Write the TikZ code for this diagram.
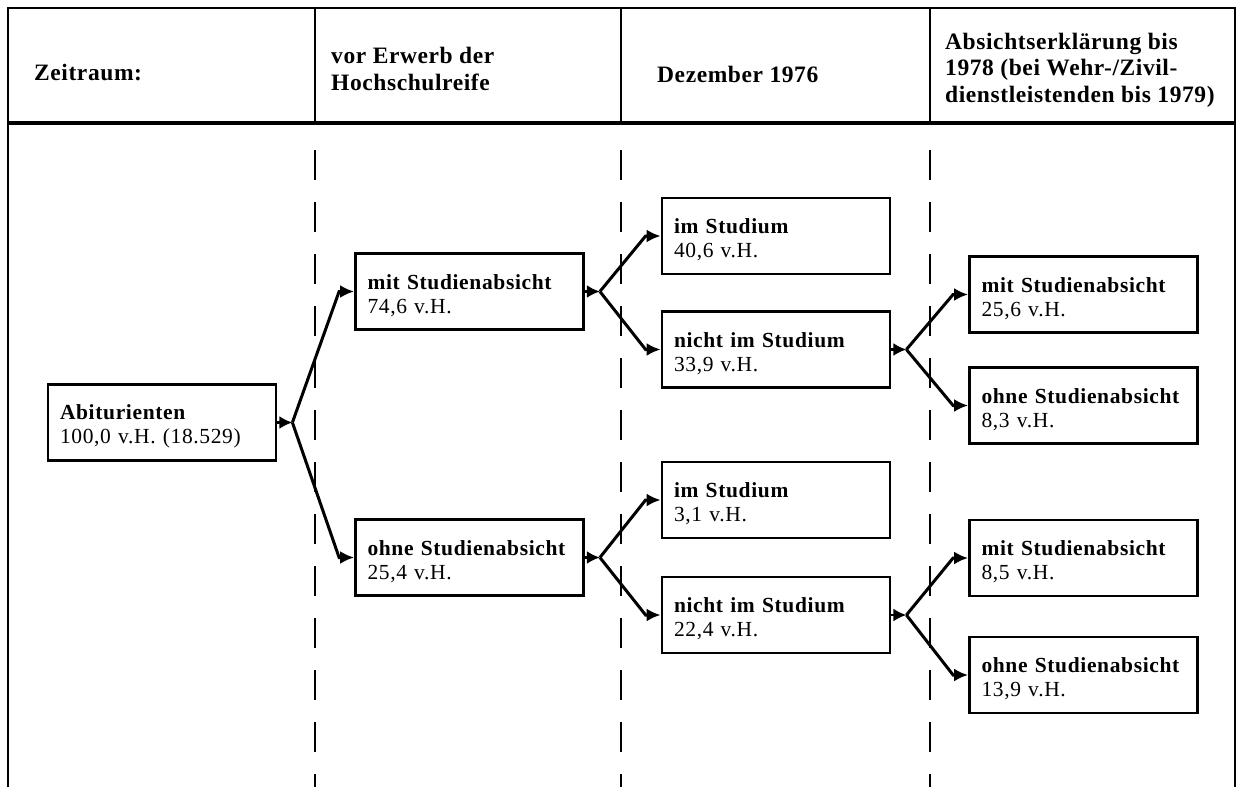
\documentclass[tikz,border=0pt]{standalone}
\usepackage{fontspec}
\setmainfont{Liberation Serif}
\newfontfamily\bxfont[LetterSpace=3]{Liberation Serif}
\newfontfamily\hdfont[LetterSpace=2.5]{Liberation Serif}
\usetikzlibrary{arrows.meta,calc}
\newcommand{\boxtxt}[2]{\rule{0pt}{23pt}\bfseries #1\\\mdseries #2}
\tikzset{
  stagebox/.style={draw, line width=2.8pt, minimum width=228pt, minimum height=76pt,
    text width=204pt, inner xsep=12pt, inner ysep=0pt, align=left,
    font=\bxfont\fontsize{21.5}{24}\selectfont},
  hdtext/.style={anchor=west, inner sep=0pt, align=left,
    font=\hdfont\bfseries\fontsize{23.5}{26.5}\selectfont},
  frame/.style={line width=2pt},
  guide/.style={line width=1.6pt, dash pattern=on 30pt off 22pt},
  conn/.style={line width=3pt, -{Latex[length=14pt,width=13pt]}},
  srcmark/.style={line width=2.5pt, -{Latex[length=13pt,width=13pt]}},
}
\begin{document}
\begin{tikzpicture}[x=1pt,y=-1pt]
\useasboundingbox (0,0) rectangle (1239,787);
% frame and header
\draw[frame] (8,787) -- (8,8) -- (1235,8) -- (1235,787);
\draw[line width=3.8pt] (8,123) -- (1235,123);
\foreach \x in {315,621,930} {
  \draw[frame] (\x,8) -- (\x,123);
  \draw[guide] (\x,150) -- (\x,787);
}
\node[hdtext] (h1) at (34,73) {Zeitraum:};
\node[hdtext] (h2) at (331,69) {vor Erwerb der\\Hochschulreife};
\node[hdtext] (h3) at (657,74) {Dezember 1976};
\node[hdtext] (h4) at (945,70) {Absichtserklärung bis\\1978 (bei Wehr-/Zivil-\\dienstleistenden bis 1979)};
% boxes
\node[stagebox] (abi) at (162,422.5) {\boxtxt{Abiturienten}{100,0 v.H. (18.529)}};
\node[stagebox] (m1) at (469.5,291.5) {\boxtxt{mit Studienabsicht}{74,6 v.H.}};
\node[stagebox] (o1) at (469.5,557.5) {\boxtxt{ohne Studienabsicht}{25,4 v.H.}};
\node[stagebox] (s1) at (776,236) {\boxtxt{im Studium}{40,6 v.H.}};
\node[stagebox] (n1) at (776,349.5) {\boxtxt{nicht im Studium}{33,9 v.H.}};
\node[stagebox] (s2) at (776,500) {\boxtxt{im Studium}{3,1 v.H.}};
\node[stagebox] (n2) at (776,615) {\boxtxt{nicht im Studium}{22,4 v.H.}};
\node[stagebox] (m2) at (1083.5,294.5) {\boxtxt{mit Studienabsicht}{25,6 v.H.}};
\node[stagebox] (o2) at (1083.5,405.5) {\boxtxt{ohne Studienabsicht}{8,3 v.H.}};
\node[stagebox] (m3) at (1083.5,558) {\boxtxt{mit Studienabsicht}{8,5 v.H.}};
\node[stagebox] (o3) at (1083.5,675) {\boxtxt{ohne Studienabsicht}{13,9 v.H.}};
% junctions
\foreach \n in {abi,m1,o1,n1,n2} {
  \coordinate (j\n) at ($(\n.east)+(15,0)$);
  \draw[srcmark] (\n.east) -- (j\n);
}
\foreach \a/\b in {abi/m1,abi/o1,m1/s1,m1/n1,o1/s2,o1/n2,n1/m2,n1/o2,n2/m3,n2/o3} {
  \draw[conn] (j\a) -- ($(\b.west)+(-15,0)$) -- (\b.west);
}
\end{tikzpicture}
\end{document}
